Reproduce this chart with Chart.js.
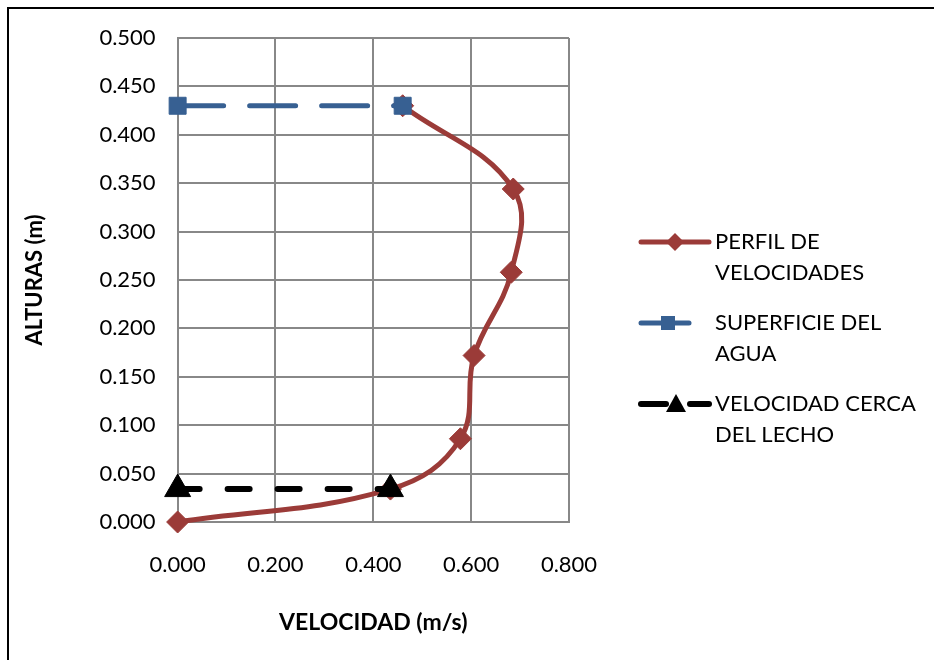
<!DOCTYPE html>
<html>
<head>
<meta charset="utf-8">
<script src="https://cdn.jsdelivr.net/npm/chart.js@4.4.1/dist/chart.umd.min.js"></script>
<style>
  html, body { margin: 0; padding: 0; background: #fff; }
  #wrap { position: relative; width: 934px; height: 660px; }
  #frame { position: absolute; left: 7px; top: 7px; right: 0; bottom: 0;
           border-top: 2px solid #000; border-left: 2px solid #000; pointer-events: none; }
</style>
</head>
<body>
<div id="wrap">
  <canvas id="chart"></canvas>
  <div id="frame"></div>
</div>
<script>
// velocity profile
const heights = [0.000, 0.034, 0.086, 0.172, 0.258, 0.344, 0.430]
const velocities = [0.000, 0.435, 0.578, 0.606, 0.682, 0.686, 0.460]

// water surface
const surfaceX = [0.000, 0.460]
const surfaceY = [0.430, 0.430]

// velocity near the bed
const bedX = [0.000, 0.435]
const bedY = [0.034, 0.034]

const seriesNames = [
    ['PERFIL DE', 'VELOCIDADES'],
    ['SUPERFICIE DEL', 'AGUA'],
    ['VELOCIDAD CERCA', 'DEL LECHO']
]

const xTicks = { min: 0, max: 0.8, step: 0.2 }
const yTicks = { min: 0, max: 0.5, step: 0.05 }

const RED = '#9b3b38'
const BLUE = '#376092'
const BLACK = '#000000'
const GRID = '#888888'
const FONT = 'Lato, "Open Sans", sans-serif'

const toPoints = (xs, ys) => xs.map((x, i) => ({ x, y: ys[i] }))

// legend symbols: line + marker
function makeSymbol(kind) {
    const c = document.createElement('canvas')
    c.width = 74
    c.height = 26
    const g = c.getContext('2d')
    const y = 13
    g.lineCap = 'round'
    if (kind === 'red') {
        g.strokeStyle = RED
        g.lineWidth = 5
        g.beginPath(); g.moveTo(3, y); g.lineTo(71, y); g.stroke()
        g.fillStyle = RED
        g.beginPath()
        g.moveTo(37, y - 9); g.lineTo(46, y); g.lineTo(37, y + 9); g.lineTo(28, y)
        g.closePath(); g.fill()
    } else if (kind === 'blue') {
        g.strokeStyle = BLUE
        g.lineWidth = 5
        g.beginPath(); g.moveTo(3, y); g.lineTo(51, y); g.stroke()
        g.fillStyle = BLUE
        g.fillRect(23, y - 7, 14, 14)
    } else {
        g.strokeStyle = BLACK
        g.lineWidth = 6
        g.beginPath(); g.moveTo(3, y); g.lineTo(28, y); g.stroke()
        g.beginPath(); g.moveTo(52, y); g.lineTo(71, y); g.stroke()
        g.fillStyle = BLACK
        g.beginPath()
        g.moveTo(38, y - 10); g.lineTo(48, y + 8); g.lineTo(28, y + 8)
        g.closePath(); g.fill()
    }
    return c
}
const symbols = [makeSymbol('red'), makeSymbol('blue'), makeSymbol('black')]

// side legend, two lines per entry like the original
const sideLegend = {
    id: 'sideLegend',
    afterDraw(chart) {
        const g = chart.ctx
        const x = chart.chartArea.right + 69
        const lineStep = 31
        const itemStep = 81
        const top = 242
        g.save()
        g.font = '22px ' + FONT
        g.fillStyle = '#000'
        g.textBaseline = 'middle'
        seriesNames.forEach((lines, i) => {
            const y = top + i * itemStep
            g.drawImage(symbols[i], x, y - 13)
            lines.forEach((t, j) => g.fillText(t, x + 77, y + j * lineStep))
        })
        g.restore()
    }
}

const ctx = document.getElementById('chart')
ctx.width = 934
ctx.height = 660

const chart = new Chart(ctx, {
    type: 'scatter',
    data: {
        datasets: [{
            label: seriesNames[0].join(' '),
            data: toPoints(velocities, heights),
            showLine: true,
            clip: false,
            tension: 0.4,
            borderColor: RED,
            borderWidth: 5,
            pointStyle: 'rectRot',
            pointRadius: 11,
            pointBackgroundColor: RED,
            pointBorderColor: RED,
            pointBorderWidth: 1,
            order: 3
        }, {
            label: seriesNames[1].join(' '),
            data: toPoints(surfaceX, surfaceY),
            showLine: true,
            clip: false,
            borderColor: BLUE,
            borderWidth: 5,
            borderDash: [46, 26],
            borderCapStyle: 'round',
            pointStyle: 'rect',
            pointRadius: 12,
            pointBackgroundColor: BLUE,
            pointBorderColor: BLUE,
            pointBorderWidth: 1,
            order: 2
        }, {
            label: seriesNames[2].join(' '),
            data: toPoints(bedX, bedY),
            showLine: true,
            clip: false,
            borderColor: BLACK,
            borderWidth: 6,
            borderDash: [22, 28],
            borderCapStyle: 'round',
            pointStyle: 'triangle',
            pointRadius: 15,
            pointBackgroundColor: BLACK,
            pointBorderColor: BLACK,
            pointBorderWidth: 1,
            order: 1
        }]
    },
    options: {
        responsive: false,
        maintainAspectRatio: false,
        animation: false,
        devicePixelRatio: 1,
        layout: {
            padding: { left: 18, right: 365, top: 38, bottom: 5 }
        },
        plugins: {
            tooltip: { enabled: false },
            legend: { display: false }
        },
        scales: {
            x: {
                type: 'linear',
                min: xTicks.min,
                max: xTicks.max,
                ticks: {
                    stepSize: xTicks.step,
                    padding: 30,
                    color: '#000',
                    font: { family: FONT, size: 22 },
                    callback: v => v.toFixed(3)
                },
                grid: { color: GRID, lineWidth: 2, drawTicks: false },
                border: { color: GRID, width: 2 },
                title: {
                    display: true,
                    text: 'VELOCIDAD (m/s)',
                    color: '#000',
                    font: { family: FONT, size: 23, weight: 'bold' },
                    padding: { top: 0, bottom: 19 }
                }
            },
            y: {
                type: 'linear',
                min: yTicks.min,
                max: yTicks.max,
                ticks: {
                    stepSize: yTicks.step,
                    padding: 22,
                    color: '#000',
                    font: { family: FONT, size: 22 },
                    callback: v => v.toFixed(3)
                },
                grid: { color: GRID, lineWidth: 2, drawTicks: false },
                border: { color: GRID, width: 2 },
                title: {
                    display: true,
                    text: 'ALTURAS (m)',
                    color: '#000',
                    font: { family: FONT, size: 22, weight: 'bold' },
                    padding: { bottom: 29 }
                }
            }
        }
    },
    plugins: [sideLegend]
})
</script>
</body>
</html>
